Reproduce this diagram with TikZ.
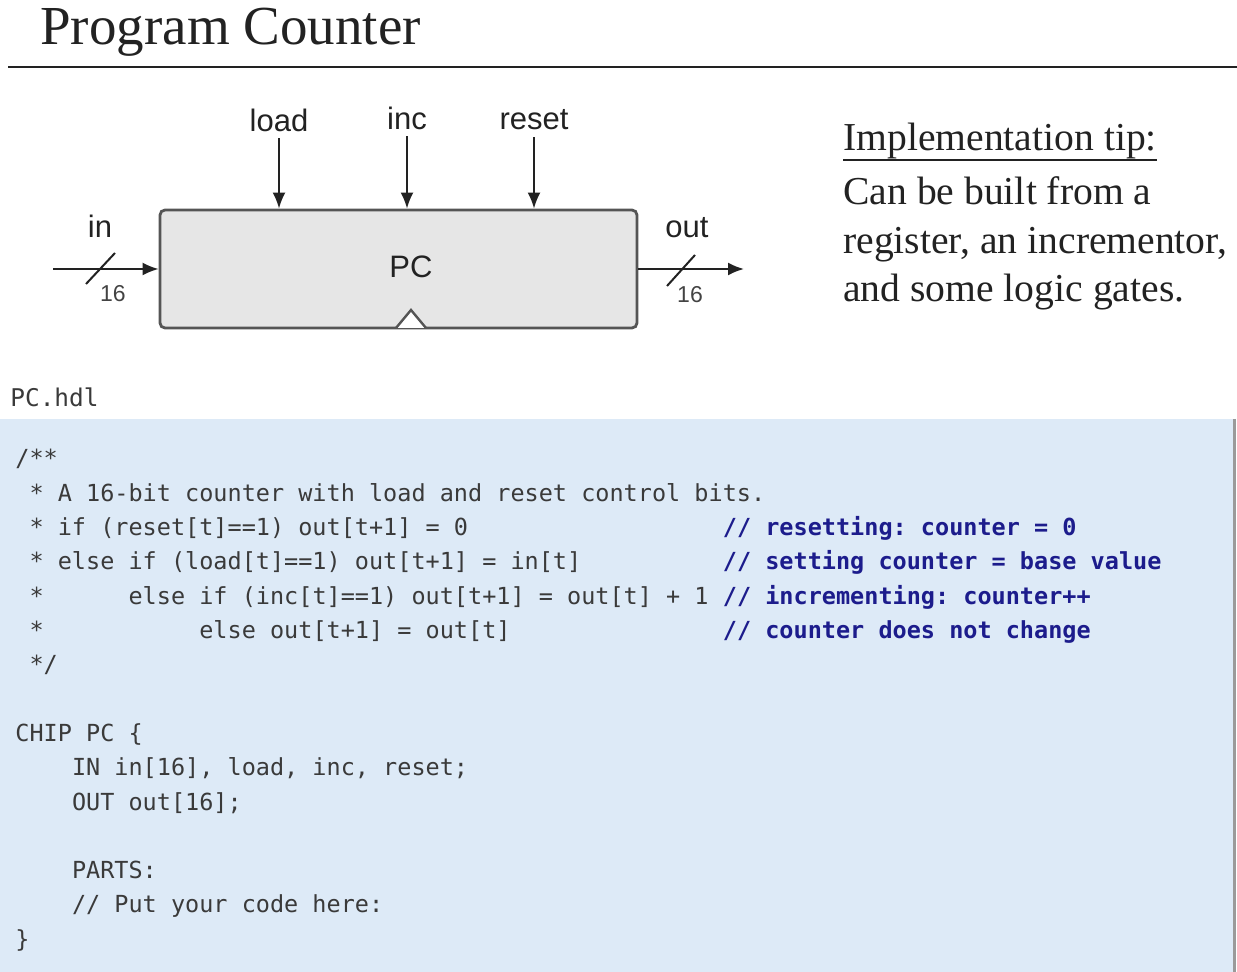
\documentclass[tikz,border=0pt]{standalone}
\usepackage{fontspec}
\setmainfont{Liberation Serif}
\setsansfont{Liberation Sans}
\setmonofont{DejaVu Sans Mono}
\usepackage{tikz}
\usetikzlibrary{arrows.meta,positioning}
\definecolor{ink}{HTML}{222222}
\definecolor{boxgray}{HTML}{E6E6E6}
\definecolor{edge}{HTML}{555555}
\definecolor{panel}{HTML}{DDEAF7}
\definecolor{codegray}{HTML}{3A3A3A}
\definecolor{navy}{HTML}{1C1C8C}
\definecolor{rim}{HTML}{9A9A9A}

\begin{document}
\frenchspacing
\begin{tikzpicture}[x=0.5pt,y=-0.5pt,>={Latex[length=8pt,width=6.5pt]},
  sig/.style={font=\sffamily\fontsize{15.5}{18}\selectfont,text=ink},
  buswidth/.style={font=\sffamily\fontsize{11.5}{13}\selectfont,text=ink!85},
  wire/.style={->,line width=1pt,ink},
  tiptext/.style={anchor=base west,inner sep=0pt,text=ink,font=\fontsize{19.8}{24}\selectfont},
  hdl/.style={anchor=base west,inner sep=0pt,text=codegray,font=\ttfamily\fontsize{11.75}{14}\selectfont},
  remark/.style={hdl,text=navy,font=\ttfamily\bfseries\fontsize{11.75}{14}\selectfont}]
  \useasboundingbox (0,0) rectangle (1237,972);
  % heading
  \node[anchor=base west,inner sep=0pt,text=ink,font=\fontsize{27.5}{32}\selectfont] (title) at (40,45) {Program Counter};
  \draw[line width=1pt,ink] (8,67) -- (1237,67);
  % the chip
  \node[draw=edge,line width=1.4pt,fill=boxgray,rounded corners=2.5pt,minimum width=238.5pt,minimum height=59pt] (pc) at (398.5,269) {};
  \node[sig] (pcname) at (411,267) {PC};
  \draw[edge,line width=1.2pt,fill=white] (396,328) -- (411,310) -- (426,328);
  \node[sig] (load) at (279,120) {load};
  \node[sig] (inc) at (407,118) {inc};
  \node[sig] (reset) at (534,120) {reset};
  \foreach \s in {load,inc,reset}
    \draw[wire] (\s.south) -- (\s.south |- pc.north);
  % 16-bit buses
  \node[sig] (inlabel) at (100,226) {in};
  \coordinate (insrc) at (53,269);
  \draw[wire] (insrc) -- (pc.west);
  \draw[line width=1pt,ink] (86,284) -- (115,253);
  \node[buswidth] (inwidth) at (113,294) {16};
  \node[sig] (outlabel) at (687,228) {out};
  \coordinate (outdst) at (744,269);
  \draw[wire] (pc.east) -- (outdst);
  \draw[line width=1pt,ink] (667,286) -- (695,255);
  \node[buswidth] (outwidth) at (690,295) {16};
  % tip
  \node[tiptext] (tiphead) at (843,151) {Implementation tip:};
  \draw[line width=0.8pt,ink] ([yshift=-4.5pt]tiphead.base west) -- ([yshift=-4.5pt]tiphead.base east);
  \node[tiptext] (tip1) at (843,205) {Can be built from a};
  \node[tiptext] (tip2) at (843,254) {register, an incrementor,};
  \node[tiptext] (tip3) at (843,302) {and some logic gates.};
  % PC.hdl listing
  \node[hdl,font=\ttfamily\fontsize{12.2}{14}\selectfont] (file) at (10,407) {PC.hdl};
  \fill[panel] (0,419) rectangle (1233,972);
  \draw[rim,line width=1.5pt] (1234.5,419) -- (1234.5,972);
  \node[hdl] (c0) at (15,467) {/**};
  \node[hdl] (c1) at (29.15,501.3) {* A 16-bit counter with load and reset control bits.};
  \node[hdl] (c2) at (29.15,535.6) {* if (reset[t]==1) out[t+1] = 0};
  \node[hdl] (c3) at (29.15,569.9) {* else if (load[t]==1) out[t+1] = in[t]};
  \node[hdl] (c4) at (29.15,604.2) {*};
  \node[hdl] (c4b) at (128.2,604.2) {else if (inc[t]==1) out[t+1] = out[t] + 1};
  \node[hdl] (c5) at (29.15,638.5) {*};
  \node[hdl] (c5b) at (198.95,638.5) {else out[t+1] = out[t]};
  \node[hdl] (c6) at (29.15,672.8) {*/};
  \node[remark] (r2) at (722.5,535.6) {// resetting: counter = 0};
  \node[remark] (r3) at (722.5,569.9) {// setting counter = base value};
  \node[remark] (r4) at (722.5,604.2) {// incrementing: counter++};
  \node[remark] (r5) at (722.5,638.5) {// counter does not change};
  \node[hdl] (chip) at (15,741.4) {CHIP PC \{};
  \node[hdl] (pins) at (71.6,775.7) {IN in[16], load, inc, reset;};
  \node[hdl] (outs) at (71.6,810) {OUT out[16];};
  \node[hdl] (parts) at (71.6,878.6) {PARTS:};
  \node[hdl] (todo) at (71.6,912.9) {// Put your code here:};
  \node[hdl] (close) at (15,947.2) {\}};
\end{tikzpicture}
\end{document}
